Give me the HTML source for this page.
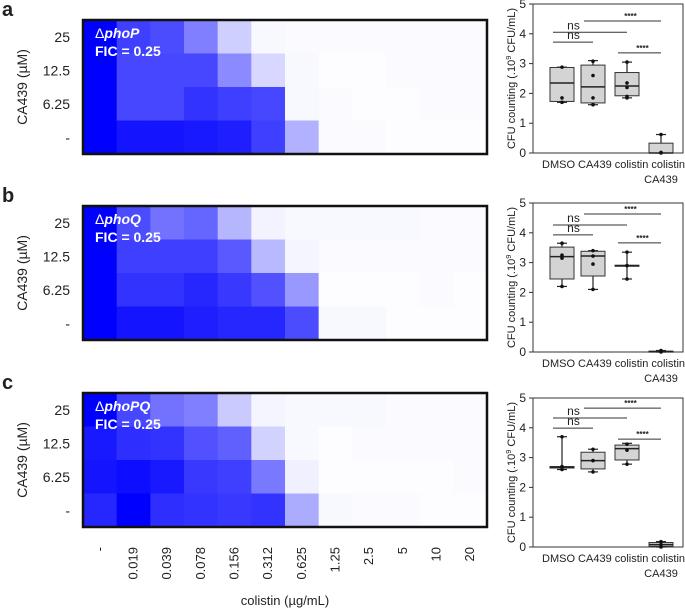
<!DOCTYPE html>
<html><head><meta charset="utf-8">
<style>
html,body{margin:0;padding:0;background:#fff;}
svg{display:block;font-family:"Liberation Sans",Arial,sans-serif;}
</style></head>
<body>
<svg id="fig" width="685" height="609" viewBox="0 0 685 609" xmlns="http://www.w3.org/2000/svg"></svg>
<script>
const colLabels = ["-","0.019","0.039","0.078","0.156","0.312","0.625","1.25","2.5","5","10","20"];
const rowLabels = ["25","12.5","6.25","-"];
const panelLetters = ["a","b","c"];
const strainNames = ["phoP","phoQ","phoPQ"];
const heatA = [
 [1,0.75,0.7,0.5,0.18,0.02,0.01,0.01,0.01,0.01,0.01,0.01],
 [1,0.72,0.72,0.72,0.45,0.15,0.02,0,0,0.01,0.01,0.01],
 [1,0.72,0.72,0.8,0.75,0.72,0.02,0.01,0,0,0.01,0.01],
 [1,0.92,0.92,0.9,0.88,0.75,0.3,0.01,0.01,0,0,0]];
const heatB = [
 [1,0.7,0.55,0.6,0.28,0.04,0.02,0.02,0.02,0.02,0.01,0.01],
 [1,0.75,0.75,0.75,0.65,0.27,0.03,0.01,0.01,0.01,0.01,0.01],
 [1,0.8,0.8,0.85,0.78,0.68,0.4,0,0,0,0.01,0],
 [1,0.92,0.92,0.88,0.85,0.85,0.7,0.02,0.02,0,0,0]];
const heatC = [
 [1,0.72,0.55,0.5,0.2,0.03,0.02,0.02,0.02,0.01,0.01,0.01],
 [0.9,0.82,0.8,0.68,0.62,0.17,0.02,0,0.01,0.01,0.01,0.01],
 [0.92,0.95,0.9,0.78,0.75,0.52,0.05,0,0,0,0,0.01],
 [0.85,1,0.82,0.8,0.78,0.8,0.32,0.02,0.01,0.01,0,0]];
const boxCats = ["DMSO","CA439","colistin","colistin CA439"];
const yTicks = [0,1,2,3,4,5];
// [whiskerLo, boxLo, median, boxHi, whiskerHi]
const boxA = [[1.7,1.73,2.35,2.87,2.88],[1.62,1.68,2.22,2.95,3.1],[1.85,1.92,2.25,2.7,3.05],[0,0,0,0.33,0.62]];
const boxB = [[2.2,2.45,3.2,3.52,3.65],[2.1,2.55,3.22,3.38,3.4],[2.45,2.89,2.9,2.91,3.35],[0,0,0.01,0.03,0.05]];
const boxC = [[2.6,2.65,2.68,2.7,3.7],[2.52,2.62,2.9,3.18,3.28],[2.78,2.92,3.3,3.42,3.48],[0,0.02,0.08,0.15,0.18]];
const ptsA = [[2.88,1.85,1.7],[3.08,2.6,1.85,1.62],[3.05,2.35,2.2,1.9,1.85],[0.62,0.02,0]];
const ptsB = [[3.65,3.25,3.15,2.2],[3.4,3.22,2.95,2.1],[3.35,2.9,2.45],[0.05,0.02,0]];
const ptsC = [[3.7,2.7,2.6],[3.28,2.9,2.52],[3.45,3.25,2.78],[0.18,0.08,0]];
// significance bars: [fromCat, toCat, yValue, label]
const sigA = [[0,1,3.72,"ns"],[0,2,4.05,"ns"],[1,3,4.43,"****"],[2,3,3.36,"****"]];
const sigB = [[0,1,3.93,"ns"],[0,2,4.26,"ns"],[1,3,4.63,"****"],[2,3,3.66,"****"]];
const sigC = [[0,1,3.99,"ns"],[0,2,4.33,"ns"],[1,3,4.66,"****"],[2,3,3.62,"****"]];

const heats=[heatA,heatB,heatC], boxes=[boxA,boxB,boxC], pts=[ptsA,ptsB,ptsC], sigs=[sigA,sigB,sigC];
const svg=document.getElementById('fig');
const NS="http://www.w3.org/2000/svg";
function mk(tag,attrs,parent,text){const e=document.createElementNS(NS,tag);for(const k in attrs)e.setAttribute(k,attrs[k]);if(text!==undefined)e.textContent=text;(parent||svg).appendChild(e);return e;}

const hmLeft=83,hmRight=487,hmTops=[20,206,393],hmH=134;
const cw=(hmRight-hmLeft)/colLabels.length, rh=hmH/rowLabels.length;
const bxLeft=533,bxRight=683,bxZero=[153,352,547],pxU=29.8;
const catX=[562,593,627,661];

for(let p=0;p<3;p++){
  const top=hmTops[p];
  const g=mk('g',{});
  
  
  const lt=mk('text',{x:2,y:top-4,'font-size':20,'font-weight':'bold',fill:'#222'},g,panelLetters[p]);
  
  
  const hm=heats[p];
  for(let r=0;r<rowLabels.length;r++){
    for(let c=0;c<colLabels.length;c++){
      const v=hm[r][c];const ch=Math.round(253*(1-v));
      const cell=mk('rect',{x:hmLeft+c*cw,y:top+r*rh,width:cw+0.5,height:rh+0.5,fill:`rgb(${ch},${ch},255)`},g);
      
      
    }
    const rl=mk('text',{x:70,y:top+r*rh+rh/2+5,'font-size':14,'text-anchor':'end',fill:'#222'},g,rowLabels[r]);
    
    
  }
  const fr=mk('rect',{x:hmLeft,y:top,width:hmRight-hmLeft,height:hmH,fill:'none',stroke:'#111','stroke-width':2.5},g);
  
  
  const yt=mk('text',{transform:`translate(27,${top+hmH/2}) rotate(-90)`,'font-size':14,'text-anchor':'middle',fill:'#222'},g,'CA439 (µM)');
  
  
  const st=mk('text',{x:95,y:top+18,'font-size':14,fill:'#fff'},g);
  
  
  mk('tspan',{},st,'Δ');
  mk('tspan',{'font-style':'italic','font-weight':'bold'},st,strainNames[p]);
  const fic=mk('text',{x:95,y:top+36,'font-size':14,'font-weight':'bold',fill:'#fff'},g,'FIC = 0.25');
  
  

  // box plot
  const z=bxZero[p]; const yv=v=>z-v*pxU;
  const bg=mk('g',{});
  
  
  const ax=mk('path',{d:`M${bxLeft},${yv(5)} V${z} H${bxRight} V${yv(5)} H${bxLeft}`,fill:'none',stroke:'#333','stroke-width':1},bg);
  
  
  yTicks.forEach(t=>{
    mk('line',{x1:bxLeft-4,x2:bxLeft,y1:yv(t),y2:yv(t),stroke:'#333'},bg);
    const tl=mk('text',{x:bxLeft-7,y:yv(t)+4,'font-size':12,'text-anchor':'end',fill:'#222'},bg,t);
    
    
  });
  const yl=mk('text',{transform:`translate(515,${yv(2.5)}) rotate(-90)`,'font-size':11,'text-anchor':'middle',fill:'#222'},bg);
  
  
  mk('tspan',{},yl,'CFU counting (.10');
  mk('tspan',{dy:-4,'font-size':7.5},yl,'9');
  mk('tspan',{dy:4},yl,' CFU/mL)');
  const cl=mk('text',{x:catX[0]-20,y:z+15,'font-size':11,fill:'#222'},bg,'DMSO CA439 colistin colistin');
  
  
  const cl2=mk('text',{x:catX[3],y:z+30,'font-size':11,'text-anchor':'middle',fill:'#222'},bg,'CA439');
  
  
  const bw=24;
  boxes[p].forEach((b,i)=>{
    const x=catX[i];
    mk('line',{x1:x,x2:x,y1:yv(b[0]),y2:yv(b[4]),stroke:'#222','stroke-width':1.2},bg);
    mk('line',{x1:x-5,x2:x+5,y1:yv(b[0]),y2:yv(b[0]),stroke:'#222','stroke-width':1.2},bg);
    mk('line',{x1:x-5,x2:x+5,y1:yv(b[4]),y2:yv(b[4]),stroke:'#222','stroke-width':1.2},bg);
    const bx=mk('rect',{x:x-bw/2,y:yv(b[3]),width:bw,height:Math.max(yv(b[1])-yv(b[3]),1),fill:'#d4d4d4',stroke:'#333','stroke-width':1},bg);
    
    
    mk('line',{x1:x-bw/2,x2:x+bw/2,y1:yv(b[2]),y2:yv(b[2]),stroke:'#222','stroke-width':1.5},bg);
    pts[p][i].forEach(v=>{
      const d=mk('circle',{cx:x,cy:yv(v),r:1.8,fill:'#111'},bg);
      
      
    });
  });
  sigs[p].forEach(s=>{
    const y=yv(s[2]);
    const ln=mk('line',{x1:catX[s[0]]-9,x2:catX[s[1]],y1:y,y2:y,stroke:'#333','stroke-width':1},bg);
    
    
    const mid=(catX[s[0]]-9+catX[s[1]])/2;
    const lx= s[3]==='ns' ? (catX[s[0]]+catX[1])/2 - 4 : (s[0]===1? mid+8 : mid+3);
    const tx=mk('text',{x:lx,y:s[3]==='ns'?y-3:y-2,'font-size':s[3]==='ns'?12:8,'text-anchor':'middle',fill:'#222','font-weight':s[3]==='ns'?'normal':'bold'},bg,s[3]);
    
    
  });
}
// x labels (bottom)
colLabels.forEach((l,c)=>{
  const x=hmLeft+c*cw+cw/2+4;
  const t=mk('text',{transform:`translate(${x},547) rotate(-90)`,'font-size':13,'text-anchor':'end',fill:'#222'},svg,l);
  
  
});
const xt=mk('text',{x:285,y:605,'font-size':13,'text-anchor':'middle',fill:'#222'},svg,'colistin (µg/mL)');


</script>
</body></html>
